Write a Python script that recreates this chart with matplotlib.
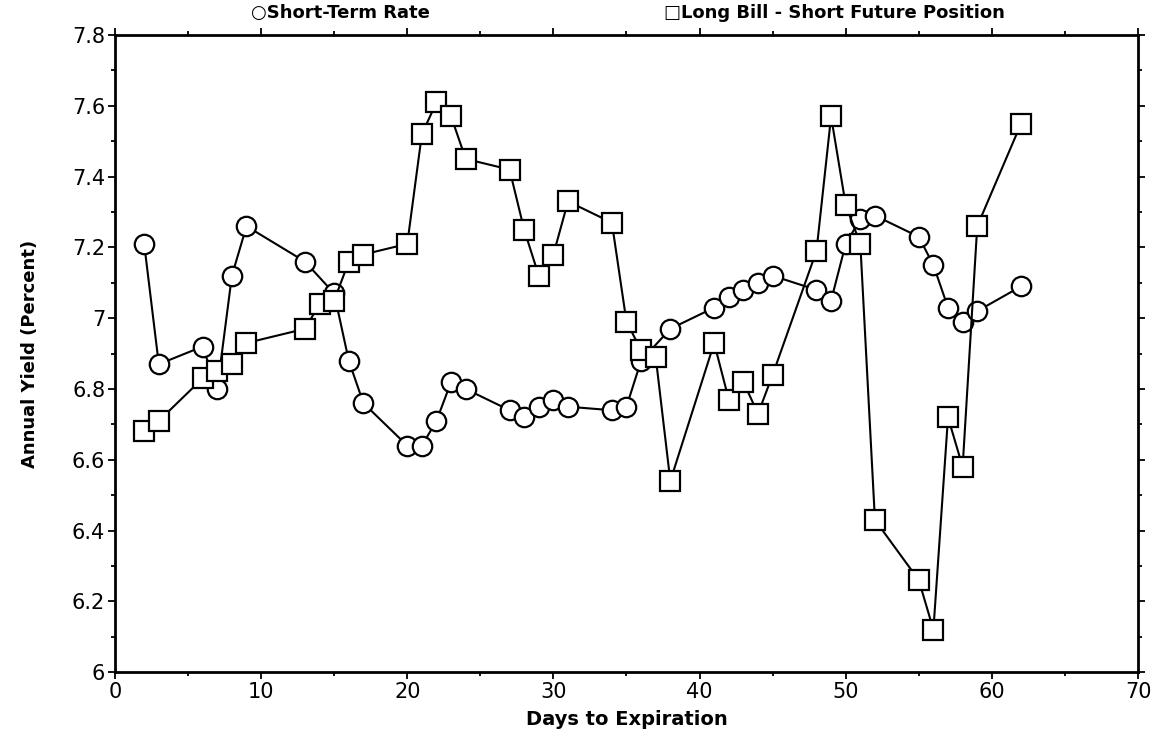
import matplotlib
matplotlib.use("Agg")
import matplotlib.pyplot as plt
from matplotlib.ticker import MultipleLocator, FuncFormatter

# Short-Term Rate (circles)
rate_days = [2, 3, 6, 7, 8, 9, 13, 15, 16, 17, 20, 21, 22, 23, 24, 27, 28, 29, 30, 31,
             34, 35, 36, 38, 41, 42, 43, 44, 45, 48, 49, 50, 51, 52, 55, 56, 57, 58, 59, 62]
rate_vals = [7.21, 6.87, 6.92, 6.80, 7.12, 7.26, 7.16, 7.07, 6.88, 6.76, 6.64, 6.64, 6.71,
             6.82, 6.80, 6.74, 6.72, 6.75, 6.77, 6.75, 6.74, 6.75, 6.88, 6.97, 7.03, 7.06,
             7.08, 7.10, 7.12, 7.08, 7.05, 7.21, 7.28, 7.29, 7.23, 7.15, 7.03, 6.99, 7.02, 7.09]

# Long Bill - Short Future Position (squares)
pos_days = [2, 3, 6, 7, 8, 9, 13, 14, 15, 16, 17, 20, 21, 22, 23, 24, 27, 28, 29, 30, 31,
            34, 35, 36, 37, 38, 41, 42, 43, 44, 45, 48, 49, 50, 51, 52, 55, 56, 57, 58, 59, 62]
pos_vals = [6.68, 6.71, 6.83, 6.85, 6.87, 6.93, 6.97, 7.04, 7.05, 7.16, 7.18, 7.21, 7.52,
            7.61, 7.57, 7.45, 7.42, 7.25, 7.12, 7.18, 7.33, 7.27, 6.99, 6.91, 6.89, 6.54,
            6.93, 6.77, 6.82, 6.73, 6.84, 7.19, 7.57, 7.32, 7.21, 6.43, 6.26, 6.12, 6.72,
            6.58, 7.26, 7.55]

fig = plt.figure(figsize=(11.53, 7.46), dpi=100)
ax = fig.add_axes([0.0997, 0.099, 0.8873, 0.854])

style = dict(color="black", linewidth=1.5, markersize=14, markeredgewidth=1.6,
             markerfacecolor="white", markeredgecolor="black")
ax.plot(rate_days, rate_vals, marker="o", **style)
ax.plot(pos_days, pos_vals, marker="s", **style)

ax.set_xlim(0, 70)
ax.set_ylim(6, 7.8)
ax.xaxis.set_major_locator(MultipleLocator(10))
ax.xaxis.set_minor_locator(MultipleLocator(5))
ax.yaxis.set_major_locator(MultipleLocator(0.2))
ax.yaxis.set_minor_locator(MultipleLocator(0.1))
ax.yaxis.set_major_formatter(FuncFormatter(lambda v, p: f"{v:g}"))
ax.tick_params(which="both", direction="out", top=True, right=True,
               labeltop=False, labelright=False, width=1.3)
ax.tick_params(which="major", length=5, labelsize=15, pad=2)
ax.tick_params(which="minor", length=3)
for s in ax.spines.values():
    s.set_linewidth(2)

ax.set_xlabel("Days to Expiration", fontsize=14, fontweight="bold", labelpad=6)
ax.set_ylabel("Annual Yield (Percent)", fontsize=13, fontweight="bold", labelpad=24)

fig.text(0.295, 0.983, "\u25cbShort-Term Rate", fontsize=13, fontweight="bold",
         ha="center", va="center")
fig.text(0.724, 0.983, "\u25a1Long Bill - Short Future Position", fontsize=13,
         fontweight="bold", ha="center", va="center")

fig.savefig("out.png", dpi=100)
